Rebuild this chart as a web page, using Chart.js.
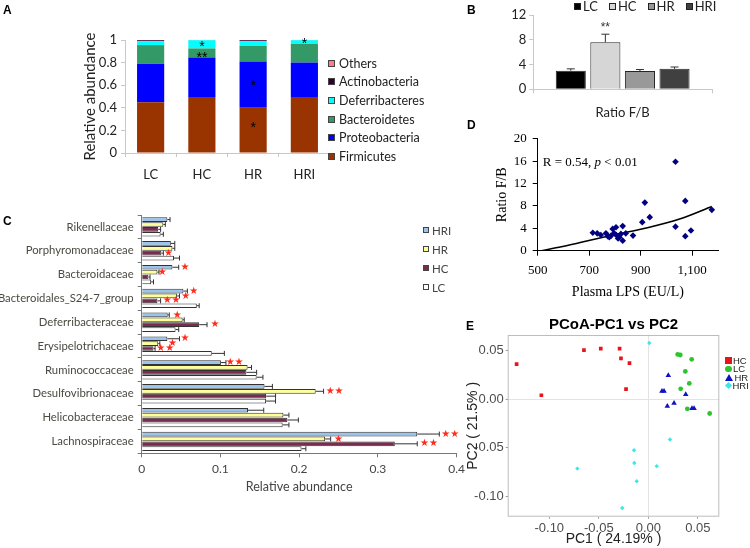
<!DOCTYPE html>
<html>
<head>
<meta charset="utf-8">
<script src="https://cdn.jsdelivr.net/npm/chart.js@4"></script>
<style>
  body { margin: 0; background: #fff; }
  #fig { position: relative; width: 750px; height: 548px; overflow: hidden; font-family: Lato, sans-serif; }
  canvas { position: absolute; }
  .letter { position: absolute; font: bold 12px "Liberation Sans", Arial, sans-serif; color: #000; line-height: 12px; }
</style>
</head>
<body>
<div id="fig">
  <canvas id="panelA" width="335" height="190" style="left:0;top:0"></canvas>
  <canvas id="panelB" width="250" height="125" style="left:470px;top:0"></canvas>
  <canvas id="panelC" width="470" height="305" style="left:0;top:195px"></canvas>
  <canvas id="panelD" width="260" height="180" style="left:470px;top:125px"></canvas>
  <canvas id="panelE" width="280" height="238" style="left:455px;top:310px"></canvas>
  <div class="letter" style="left:3px;top:4px">A</div>
  <div class="letter" style="left:467px;top:4px">B</div>
  <div class="letter" style="left:3px;top:215px">C</div>
  <div class="letter" style="left:467px;top:119px">D</div>
  <div class="letter" style="left:466px;top:320px">E</div>
</div>
<script>
// ---- A: phylum composition
const groupsA = ['LC', 'HC', 'HR', 'HRI'];
const phyla = ['Firmicutes', 'Proteobacteria', 'Bacteroidetes', 'Deferribacteres', 'Actinobacteria', 'Others'];
const firmicutes = [0.45, 0.495, 0.40, 0.495];
const proteobacteria = [0.34, 0.35, 0.41, 0.305];
const bacteroidetes = [0.165, 0.08, 0.137, 0.165];
const deferribacteres = [0.035, 0.073, 0.043, 0.033];
const actinobacteria = [0.008, 0.001, 0.008, 0.001];
const others = [0.002, 0.001, 0.002, 0.001];
const ticksA = [0, 0.2, 0.4, 0.6, 0.8, 1];
const starsA = [['HC', 0.965, '*'], ['HC', 0.865, '**'], ['HR', 0.62, '*'], ['HR', 0.245, '*'], ['HRI', 0.99, '*']];

// ---- B: F/B ratio
const groupsB = ['LC', 'HC', 'HR', 'HRI'];
const ratioFB = [3.0, 7.6, 2.95, 3.3];
const ratioErr = [3.3, 8.9, 3.2, 3.6];
const ticksB = [0, 4, 8, 12];
const starsB = [['HC', 10.4, '**']];

// ---- C: families
const families = ['Rikenellaceae', 'Porphyromonadaceae', 'Bacteroidaceae', 'Bacteroidales_S24-7_group',
  'Deferribacteraceae', 'Erysipelotrichaceae', 'Ruminococcaceae', 'Desulfovibrionaceae',
  'Helicobacteraceae', 'Lachnospiraceae'];
const groupsC = ['HRI', 'HR', 'HC', 'LC'];
const hriC = [0.0326, 0.037, 0.039, 0.053, 0.033, 0.0326, 0.1006, 0.156, 0.135, 0.350];
const hriErr = [0.036, 0.042, 0.047, 0.058, 0.035, 0.048, 0.107, 0.166, 0.155, 0.378];
const hrC = [0.0275, 0.039, 0.020, 0.045, 0.052, 0.021, 0.1345, 0.221, 0.180, 0.233];
const hrErr = [0.030, 0.042, 0.022, 0.048, 0.054, 0.023, 0.1395, 0.231, 0.187, 0.240];
const hcC = [0.021, 0.025, 0.0085, 0.020, 0.073, 0.015, 0.133, 0.158, 0.185, 0.3215];
const hcErr = [0.024, 0.0275, 0.0106, 0.024, 0.083, 0.017, 0.146, 0.170, 0.199, 0.350];
const lcC = [0.024, 0.041, 0.012, 0.070, 0.043, 0.089, 0.146, 0.158, 0.179, 0.203];
const lcErr = [0.0275, 0.048, 0.015, 0.073, 0.047, 0.105, 0.154, 0.170, 0.187, 0.2085];
const ticksC = [0, 0.1, 0.2, 0.3, 0.4];
const starsC = [
  [1, 'HC', 0.034, '*'],
  [2, 'HRI', 0.055, '*'], [2, 'HR', 0.026, '*'],
  [3, 'HRI', 0.066, '*'], [3, 'HR', 0.056, '*'], [3, 'HC', 0.038, '**'],
  [4, 'HRI', 0.045, '*'], [4, 'HC', 0.093, '*'],
  [5, 'HRI', 0.055, '*'], [5, 'HR', 0.039, '*'], [5, 'HC', 0.030, '**'],
  [6, 'HRI', 0.118, '**'],
  [7, 'HR', 0.245, '**'],
  [9, 'HRI', 0.392, '**'], [9, 'HR', 0.250, '*'], [9, 'HC', 0.365, '**']
];

// ---- D: LPS vs F/B
const lps = [714, 731, 745, 765, 772, 778, 785, 791, 797, 804, 805, 812, 817, 823, 830, 830, 842, 870,
  906, 916, 935, 1035, 1035, 1073, 1073, 1095, 1176];
const fb = [3.2, 3.1, 2.8, 3.1, 2.6, 2.4, 2.7, 3.9, 3.1, 4.2, 2.8, 2.2, 2.4, 3.0, 4.4, 1.8, 3.1, 2.7,
  5.1, 8.6, 6.0, 15.9, 4.3, 8.9, 2.6, 3.6, 7.3];
const fitX = [515, 592, 669, 797, 926, 1054, 1176];
const fitY = [0, 0.7, 1.5, 2.85, 4.1, 5.7, 7.9];
const ticksDx = [500, 700, 900, 1100];
const ticksDy = [0, 4, 8, 12, 16, 20];

// ---- E: PCoA
const pcHC_x = [-0.133, -0.108, -0.065, -0.048, -0.029, -0.0276, -0.019, -0.0225];
const pcHC_y = [0.036, 0.004, 0.0505, 0.052, 0.052, 0.042, 0.037, 0.0103];
const pcLC_x = [0.0297, 0.0323, 0.0438, 0.0374, 0.0414, 0.0327, 0.0394, 0.062];
const pcLC_y = [0.046, 0.0454, 0.041, 0.0285, 0.0162, 0.0106, -0.010, -0.0148];
const pcHR_x = [0.0202, 0.0138, 0.0159, 0.0378, 0.026, 0.0192, 0.0441, 0.0462];
const pcHR_y = [0.0244, 0.0082, 0.0082, 0.0048, -0.0041, -0.0072, -0.0096, -0.0096];
const pcHRI_x = [0.001, 0.0219, -0.0144, -0.0141, 0.0085, -0.0717, -0.0117, -0.0263];
const pcHRI_y = [0.0577, -0.0416, -0.0526, -0.0657, -0.069, -0.0715, -0.0845, -0.112];
const ticksE = [-0.10, -0.05, 0, 0.05];

const fig = document.getElementById('fig');

function fixTicks(list) {
  return scale => { scale.ticks = list.map(v => ({ value: v })); };
}

function makeLegend(items, x, y0, dy, horizontal, font, color) {
  const wrap = document.createElement('div');
  wrap.style.cssText = 'position:absolute;left:' + x + 'px;top:' + y0 + 'px;font:' + font + ';color:' + color +
    (horizontal ? ';display:flex;gap:' + dy + 'px' : '');
  items.forEach((it, i) => {
    const d = document.createElement('div');
    d.style.cssText = horizontal ? 'display:flex;align-items:center;height:12px'
      : 'position:absolute;left:0;top:' + (i * dy - 8) + 'px;display:flex;align-items:center;height:16px;white-space:nowrap';
    const b = document.createElement('i');
    b.style.cssText = 'display:inline-block;box-sizing:border-box;margin-right:' + (it.gap || 3) + 'px;' + it.mark;
    d.appendChild(b);
    d.appendChild(document.createTextNode(it.text));
    wrap.appendChild(d);
  });
  fig.appendChild(wrap);
}

// star / asterisk labels drawn at data positions
function textPlugin(id, draw) {
  return { id: id, afterDatasetsDraw(chart) { const c = chart.ctx; c.save(); draw(chart, c); c.restore(); } };
}

// ================= Panel A =================
const colA = ['#993300', '#0000ff', '#339966', '#00ffff', '#330033', '#ff8080'];
const seriesA = [firmicutes, proteobacteria, bacteroidetes, deferribacteres, actinobacteria, others];
new Chart(document.getElementById('panelA'), {
  type: 'bar',
  data: {
    labels: groupsA,
    datasets: phyla.map((p, i) => ({
      label: p, data: seriesA[i], backgroundColor: colA[i], borderWidth: 0,
      barPercentage: 0.53, categoryPercentage: 1
    }))
  },
  options: {
    responsive: false, animation: false,
    layout: { padding: { left: 80, top: 40, right: 5, bottom: 0 } },
    plugins: { legend: { display: false }, tooltip: { enabled: false } },
    scales: {
      x: {
        stacked: true,
        grid: { drawOnChartArea: false, offset: true, tickLength: 4, color: '#c8c8c8' },
        border: { color: '#c8c8c8' },
        ticks: { font: { family: 'Lato', size: 13 }, color: '#222', padding: 10 },
        afterFit: s => { s.height = 37; }
      },
      y: {
        stacked: true, min: 0, max: 1,
        afterBuildTicks: fixTicks(ticksA),
        grid: { drawOnChartArea: false, tickLength: 4, color: '#c8c8c8' },
        border: { color: '#c8c8c8' },
        ticks: { font: { family: 'Lato', size: 13 }, color: '#222', padding: 4, callback: v => String(+v.toFixed(1)) },
        title: { display: true, text: 'Relative abundance', font: { family: 'Lato', size: 15 }, color: '#222', padding: { top: 1, bottom: 0 } },
        afterFit: s => { s.width = 45; }
      }
    }
  },
  plugins: [textPlugin('starsA', (chart, c) => {
    c.fillStyle = '#000'; c.font = '14px "Liberation Sans"'; c.textAlign = 'center'; c.textBaseline = 'middle';
    starsA.forEach(([g, v, t]) => {
      c.fillText(t, chart.scales.x.getPixelForValue(groupsA.indexOf(g)), chart.scales.y.getPixelForValue(v) + 3);
    });
  })]
});
makeLegend(phyla.map((p, i) => ({
  text: p, mark: 'width:7px;height:7px;border:1px solid #444;background:' + colA[i], gap: 4
})).reverse(), 328, 63.3, 18.6, false, '12.5px Lato', '#222');

// ================= Panel B =================
const colB = ['#000000', '#d6d6d6', '#999999', '#404040'];
new Chart(document.getElementById('panelB'), {
  type: 'bar',
  data: {
    labels: ['Ratio F/B'],
    datasets: groupsB.map((g, i) => ({
      label: g, data: [ratioFB[i]], backgroundColor: colB[i], borderColor: '#262626', borderWidth: 1,
      barPercentage: 0.87, categoryPercentage: 0.774
    }))
  },
  options: {
    responsive: false, animation: false,
    layout: { padding: { left: 30, top: 15, right: 8, bottom: 0 } },
    plugins: { legend: { display: false }, tooltip: { enabled: false } },
    scales: {
      x: {
        grid: { drawOnChartArea: false, offset: true, tickLength: 4, color: '#c8c8c8' },
        border: { color: '#c8c8c8' },
        ticks: { font: { family: 'Lato', size: 13 }, color: '#222', padding: 12 },
        afterFit: s => { s.height = 35.7; }
      },
      y: {
        min: 0, max: 12,
        afterBuildTicks: fixTicks(ticksB),
        grid: { drawOnChartArea: false, tickLength: 4, color: '#c8c8c8' },
        border: { color: '#c8c8c8' },
        ticks: { font: { family: 'Lato', size: 13 }, color: '#222', padding: 3 },
        afterFit: s => { s.width = 33.3; }
      }
    }
  },
  plugins: [textPlugin('errB', (chart, c) => {
    const ys = chart.scales.y;
    c.strokeStyle = '#333'; c.lineWidth = 1;
    groupsB.forEach((g, i) => {
      const bar = chart.getDatasetMeta(i).data[0];
      const top = ys.getPixelForValue(ratioErr[i]);
      c.beginPath();
      c.moveTo(bar.x, bar.y); c.lineTo(bar.x, top);
      c.moveTo(bar.x - 4, top); c.lineTo(bar.x + 4, top);
      c.stroke();
    });
    c.fillStyle = '#333'; c.font = '12px "Liberation Sans"'; c.textAlign = 'center'; c.textBaseline = 'middle';
    starsB.forEach(([g, v, t]) => {
      const bar = chart.getDatasetMeta(groupsB.indexOf(g)).data[0];
      c.fillText(t, bar.x, ys.getPixelForValue(v) + 3);
    });
  })]
});
makeLegend(groupsB.map((g, i) => ({
  text: g, mark: 'width:7px;height:7px;border:1px solid #222;background:' + colB[i], gap: 2
})), 574, 0, 11, true, '13px Lato', '#222');

// ================= Panel C =================
const colC = ['#9cc3ea', '#ffff99', '#7b2c4e', '#ffffff'];
const seriesC = [hriC, hrC, hcC, lcC];
const errC = [hriErr, hrErr, hcErr, lcErr];
new Chart(document.getElementById('panelC'), {
  type: 'bar',
  data: {
    labels: families,
    datasets: groupsC.map((g, i) => ({
      label: g, data: seriesC[i], backgroundColor: colC[i], borderColor: '#333', borderWidth: 1,
      barPercentage: 0.96, categoryPercentage: 0.82
    }))
  },
  options: {
    indexAxis: 'y',
    responsive: false, animation: false,
    layout: { padding: { left: 0, top: 20, right: 13, bottom: 0 } },
    plugins: { legend: { display: false }, tooltip: { enabled: false } },
    scales: {
      x: {
        min: 0, max: 0.4,
        afterBuildTicks: fixTicks(ticksC),
        grid: { drawOnChartArea: false, tickLength: 4, color: '#777' },
        border: { color: '#777' },
        ticks: { font: { family: 'Lato', size: 12 }, color: '#444', padding: 5, callback: v => String(+v.toFixed(1)) },
        title: { display: true, text: 'Relative abundance', font: { family: 'Lato', size: 12.5 }, color: '#444', padding: { top: 0, bottom: 6 } },
        afterFit: s => { s.height = 46.7; }
      },
      y: {
        grid: { drawOnChartArea: false, offset: true, tickLength: 4, color: '#777' },
        border: { color: '#777' },
        ticks: { font: { family: 'Lato', size: 11.3 }, color: '#4a4a40', padding: 4 },
        afterFit: s => { s.width = 141.7; }
      }
    }
  },
  plugins: [textPlugin('errC', (chart, c) => {
    const xs = chart.scales.x;
    c.strokeStyle = '#333'; c.lineWidth = 1;
    groupsC.forEach((g, di) => {
      chart.getDatasetMeta(di).data.forEach((bar, i) => {
        const p = xs.getPixelForValue(errC[di][i]);
        c.beginPath();
        c.moveTo(bar.x, bar.y); c.lineTo(p, bar.y);
        c.moveTo(p, bar.y - 2.5); c.lineTo(p, bar.y + 2.5);
        c.stroke();
      });
    });
    c.fillStyle = '#ff2a1a'; c.font = '10px "DejaVu Sans"'; c.textAlign = 'center'; c.textBaseline = 'middle';
    starsC.forEach(([fi, g, v, t]) => {
      const bar = chart.getDatasetMeta(groupsC.indexOf(g)).data[fi];
      c.fillText(t.replace(/\*/g, '\u2605'), xs.getPixelForValue(v), bar.y);
    });
  })]
});
makeLegend(groupsC.map((g, i) => ({
  text: g, mark: 'width:6px;height:6px;border:1px solid #444;background:' + colC[i], gap: 3
})), 423, 230, 19, false, '11.5px Lato', '#444');

// ================= Panel D =================
new Chart(document.getElementById('panelD'), {
  type: 'scatter',
  data: {
    datasets: [
      {
        label: 'samples', data: lps.map((x, i) => ({ x: x, y: fb[i] })),
        pointStyle: 'rectRot', pointRadius: 3.3, backgroundColor: '#000080', borderWidth: 0
      },
      {
        type: 'line', label: 'fit', data: fitX.map((x, i) => ({ x: x, y: fitY[i] })),
        borderColor: '#000', borderWidth: 1.6, pointRadius: 0, fill: false, tension: 0.3
      }
    ]
  },
  options: {
    responsive: false, animation: false,
    layout: { padding: { left: 24, top: 8.3, right: 12, bottom: 0 } },
    plugins: { legend: { display: false }, tooltip: { enabled: false } },
    scales: {
      x: {
        type: 'linear', min: 500, max: 1200,
        afterBuildTicks: fixTicks(ticksDx),
        grid: { drawOnChartArea: false, tickLength: 5, color: '#000' },
        border: { color: '#000' },
        ticks: { font: { family: 'Liberation Serif', size: 13 }, color: '#000', padding: 7 },
        title: { display: true, text: 'Plasma LPS (EU/L)', font: { family: 'Liberation Serif', size: 14 }, color: '#000', padding: { top: 0, bottom: 4.6 } },
        afterFit: s => { s.height = 54.3; }
      },
      y: {
        min: 0, max: 20,
        afterBuildTicks: fixTicks(ticksDy),
        grid: { drawOnChartArea: false, tickLength: 5, color: '#000' },
        border: { color: '#000' },
        ticks: { font: { family: 'Liberation Serif', size: 13 }, color: '#000', padding: 6 },
        title: { display: true, text: 'Ratio F/B', font: { family: 'Liberation Serif', size: 14 }, color: '#000', padding: { top: 0, bottom: 0 } },
        afterFit: s => { s.width = 43.7; }
      }
    }
  },
  plugins: [textPlugin('statD', (chart, c) => {
    let x = chart.scales.x.getPixelForValue(520);
    const y = chart.scales.y.getPixelForValue(15.8);
    c.fillStyle = '#000'; c.textBaseline = 'middle'; c.textAlign = 'left';
    [['R = 0.54, ', ''], ['p', 'italic '], [' < 0.01', '']].forEach(([s, st]) => {
      c.font = st + '13px "Liberation Serif"';
      c.fillText(s, x, y);
      x += c.measureText(s).width;
    });
  })]
});

// ================= Panel E =================
const groupsE = ['HC', 'LC', 'HR', 'HRI'];
const colE = ['#e8141c', '#2fc42f', '#1010c8', '#40e6e6'];
const shapeE = ['rect', 'circle', 'triangle', 'rectRot'];
const radiusE = [2.6, 2.4, 3.2, 2.2];
const pcX = [pcHC_x, pcLC_x, pcHR_x, pcHRI_x];
const pcY = [pcHC_y, pcLC_y, pcHR_y, pcHRI_y];
new Chart(document.getElementById('panelE'), {
  type: 'scatter',
  data: {
    datasets: groupsE.map((g, i) => ({
      label: g, data: pcX[i].map((x, j) => ({ x: x, y: pcY[i][j] })),
      pointStyle: shapeE[i], pointRadius: radiusE[i], backgroundColor: colE[i], borderWidth: 0
    }))
  },
  options: {
    responsive: false, animation: false,
    layout: { padding: { left: 10, top: 0, right: 15.7, bottom: 0 } },
    plugins: {
      legend: { display: false }, tooltip: { enabled: false },
      title: {
        display: true, text: 'PCoA-PC1 vs PC2', fullSize: false,
        font: { family: 'Liberation Sans', size: 15, weight: 'bold' }, color: '#000',
        padding: { top: 6, bottom: 1 }
      }
    },
    scales: {
      x: {
        min: -0.142, max: 0.0717,
        afterBuildTicks: fixTicks(ticksE),
        grid: { color: c => (c.tick && c.tick.value === 0 ? '#e3e3e3' : 'rgba(0,0,0,0)'), tickColor: '#999', tickLength: 2 },
        border: { display: false },
        ticks: { font: { family: 'Liberation Sans', size: 13 }, color: '#4d4d4d', padding: 2, callback: v => v.toFixed(2) },
        title: { display: true, text: 'PC1 ( 24.19% )', font: { family: 'Liberation Sans', size: 14 }, color: '#222', padding: { top: 0, bottom: 0 } },
        afterFit: s => { s.height = 31.3; }
      },
      y: {
        min: -0.121, max: 0.066,
        afterBuildTicks: fixTicks(ticksE),
        grid: { color: c => (c.tick && c.tick.value === 0 ? '#e3e3e3' : 'rgba(0,0,0,0)'), tickColor: '#999', tickLength: 2 },
        border: { display: false },
        ticks: { font: { family: 'Liberation Sans', size: 13 }, color: '#4d4d4d', padding: 2, callback: v => v.toFixed(2) },
        title: { display: true, text: 'PC2 ( 21.5% )', font: { family: 'Liberation Sans', size: 14 }, color: '#222', padding: { top: 0, bottom: 0 } },
        afterFit: s => { s.width = 42.7; }
      }
    }
  },
  plugins: [{
    id: 'panelBorder',
    beforeDatasetsDraw(chart) {
      const a = chart.chartArea, c = chart.ctx;
      c.save(); c.strokeStyle = '#bdbdbd'; c.lineWidth = 1;
      c.strokeRect(a.left + 0.5, a.top + 0.5, a.right - a.left - 1, a.bottom - a.top - 1);
      c.restore();
    }
  }]
});
const markE = [
  'width:6.5px;height:6.5px;background:' + colE[0],
  'width:6.5px;height:6.5px;border-radius:50%;background:' + colE[1],
  'width:0;height:0;border-left:4px solid transparent;border-right:4px solid transparent;border-bottom:7px solid ' + colE[2],
  'width:5px;height:5px;margin-left:1px;transform:rotate(45deg);background:' + colE[3]
];
makeLegend(groupsE.map((g, i) => ({ text: g, mark: markE[i], gap: 1.5 })), 725, 360.7, 8.3, false, '9.5px "Liberation Sans"', '#222');
</script>
</body>
</html>
